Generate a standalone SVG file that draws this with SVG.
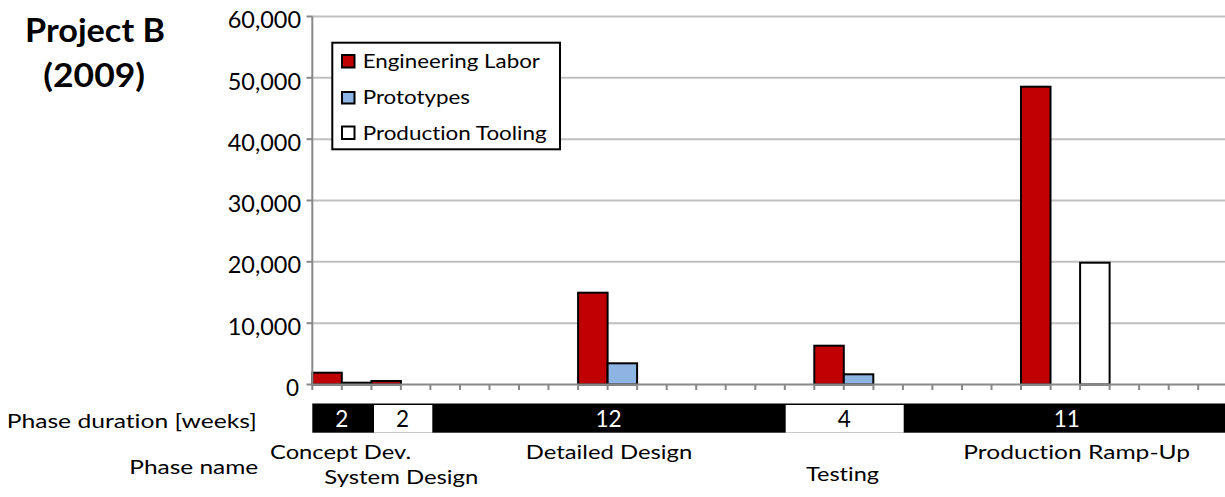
<svg xmlns="http://www.w3.org/2000/svg" width="1225" height="497" viewBox="0 0 1225 497">
<style>
text{font-family:Lato,"Liberation Sans",Arial,sans-serif;fill:#000;font-variant-ligatures:none;font-feature-settings:"liga" 0,"clig" 0}
.grid{stroke:#c0c0c0;stroke-width:2}
.axis{stroke:#888;stroke-width:2;fill:none}
.ylab{font-size:22.5px;text-anchor:end}
.lab{font-size:19.5px}
.num{font-size:22.5px;text-anchor:middle}
.wt{fill:#fff}
.bar{stroke:#000;stroke-width:2}
.el{fill:#c00000}
.pr{fill:#8db4e2}
.pt{fill:#fff}
</style>
<g id="title">
<text x="25" y="41.7" font-size="32.5" font-weight="bold" textLength="140" lengthAdjust="spacingAndGlyphs">Project B</text>
<text x="43.3" y="87" font-size="32.5" font-weight="bold" textLength="101.7" lengthAdjust="spacingAndGlyphs">(2009)</text>
</g>
<g id="gridlines">
<line class="grid" x1="312" y1="16.5" x2="1225" y2="16.5"/>
<line class="grid" x1="312" y1="77.8" x2="1225" y2="77.8"/>
<line class="grid" x1="312" y1="139.2" x2="1225" y2="139.2"/>
<line class="grid" x1="312" y1="200.5" x2="1225" y2="200.5"/>
<line class="grid" x1="312" y1="261.8" x2="1225" y2="261.8"/>
<line class="grid" x1="312" y1="323.2" x2="1225" y2="323.2"/>
</g>
<g id="y-labels">
<text class="ylab" x="301" y="28.3" textLength="73.3" lengthAdjust="spacingAndGlyphs">60,000</text>
<text class="ylab" x="301" y="89.5" textLength="73.3" lengthAdjust="spacingAndGlyphs">50,000</text>
<text class="ylab" x="301" y="150.8" textLength="73.3" lengthAdjust="spacingAndGlyphs">40,000</text>
<text class="ylab" x="301" y="212" textLength="73.3" lengthAdjust="spacingAndGlyphs">30,000</text>
<text class="ylab" x="301" y="273.4" textLength="73.3" lengthAdjust="spacingAndGlyphs">20,000</text>
<text class="ylab" x="301" y="334.8" textLength="73.3" lengthAdjust="spacingAndGlyphs">10,000</text>
<text class="ylab" x="299" y="396">0</text>
</g>
<g id="bars">
<rect class="bar el" x="312.3" y="372.7" width="29.5" height="11.8"/>
<rect class="bar pr" x="341.8" y="382.7" width="29.5" height="1.8"/>
<rect class="bar el" x="371.4" y="381" width="29.5" height="3.5"/>
<rect class="bar el" x="578.1" y="292.7" width="29.5" height="91.8"/>
<rect class="bar pr" x="607.6" y="363.3" width="29.5" height="21.2"/>
<rect class="bar el" x="814.3" y="345.7" width="29.5" height="38.8"/>
<rect class="bar pr" x="843.8" y="374.3" width="29.5" height="10.2"/>
<rect class="bar el" x="1021" y="86.7" width="29.5" height="297.8"/>
<rect class="bar pt" x="1080.1" y="262.7" width="29.5" height="121.8"/>
</g>
<g id="axes">
<line class="axis" x1="312.3" y1="16.5" x2="312.3" y2="390"/>
<line class="axis" x1="306.5" y1="16.5" x2="312.3" y2="16.5"/>
<line class="axis" x1="306.5" y1="77.8" x2="312.3" y2="77.8"/>
<line class="axis" x1="306.5" y1="139.2" x2="312.3" y2="139.2"/>
<line class="axis" x1="306.5" y1="200.5" x2="312.3" y2="200.5"/>
<line class="axis" x1="306.5" y1="261.8" x2="312.3" y2="261.8"/>
<line class="axis" x1="306.5" y1="323.2" x2="312.3" y2="323.2"/>
<line class="axis" x1="306.5" y1="384.5" x2="1225" y2="384.5"/>
<path class="axis" d="M341.8 384.5V390M371.4 384.5V390M400.9 384.5V390M430.4 384.5V390M460 384.5V390M489.5 384.5V390M519 384.5V390M548.5 384.5V390M578.1 384.5V390M607.6 384.5V390M637.1 384.5V390M666.7 384.5V390M696.2 384.5V390M725.7 384.5V390M755.3 384.5V390M784.8 384.5V390M814.3 384.5V390M843.8 384.5V390M873.4 384.5V390M902.9 384.5V390M932.4 384.5V390M962 384.5V390M991.5 384.5V390M1021 384.5V390M1050.6 384.5V390M1080.1 384.5V390M1109.6 384.5V390M1139.1 384.5V390M1168.7 384.5V390M1198.2 384.5V390"/>
</g>
<g id="legend">
<rect x="332.3" y="42.7" width="227.7" height="106.6" fill="#fff" stroke="#000" stroke-width="2"/>
<rect class="bar el" x="342" y="55" width="12.5" height="12.5"/>
<rect class="bar pr" x="342" y="92" width="12.5" height="11.5"/>
<rect class="bar pt" x="342" y="126.5" width="12.5" height="12.5"/>
<text class="lab" x="362.7" y="68" textLength="177.3" lengthAdjust="spacingAndGlyphs">Engineering Labor</text>
<text class="lab" x="362.7" y="104" textLength="107.3" lengthAdjust="spacingAndGlyphs">Prototypes</text>
<text class="lab" x="362.7" y="140" textLength="184" lengthAdjust="spacingAndGlyphs">Production Tooling</text>
</g>
<g id="phase-bar">
<rect x="312.3" y="403.5" width="912.7" height="29.2" fill="#000"/>
<rect x="374" y="405" width="58.3" height="27.7" fill="#fff"/>
<rect x="785.7" y="405" width="118" height="27.7" fill="#fff"/>
<text class="num wt" x="341.8" y="427">2</text>
<text class="num" x="402.5" y="427">2</text>
<text class="num wt" x="608.6" y="427">12</text>
<text class="num" x="844.3" y="427">4</text>
<text class="num wt" x="1066.7" y="427">11</text>
</g>
<g id="phase-labels">
<text class="lab" x="6.7" y="428.3" textLength="250" lengthAdjust="spacingAndGlyphs">Phase duration [weeks]</text>
<text class="lab" x="129.3" y="474.3" textLength="129" lengthAdjust="spacingAndGlyphs">Phase name</text>
<text class="lab" x="270" y="459" textLength="141" lengthAdjust="spacingAndGlyphs">Concept Dev.</text>
<text class="lab" x="324.3" y="483.5" textLength="154" lengthAdjust="spacingAndGlyphs">System Design</text>
<text class="lab" x="525.7" y="459.3" textLength="166.6" lengthAdjust="spacingAndGlyphs">Detailed Design</text>
<text class="lab" x="806" y="481" textLength="73" lengthAdjust="spacingAndGlyphs">Testing</text>
<text class="lab" x="963.3" y="458.5" textLength="226.7" lengthAdjust="spacingAndGlyphs">Production Ramp-Up</text>
</g>
</svg>
